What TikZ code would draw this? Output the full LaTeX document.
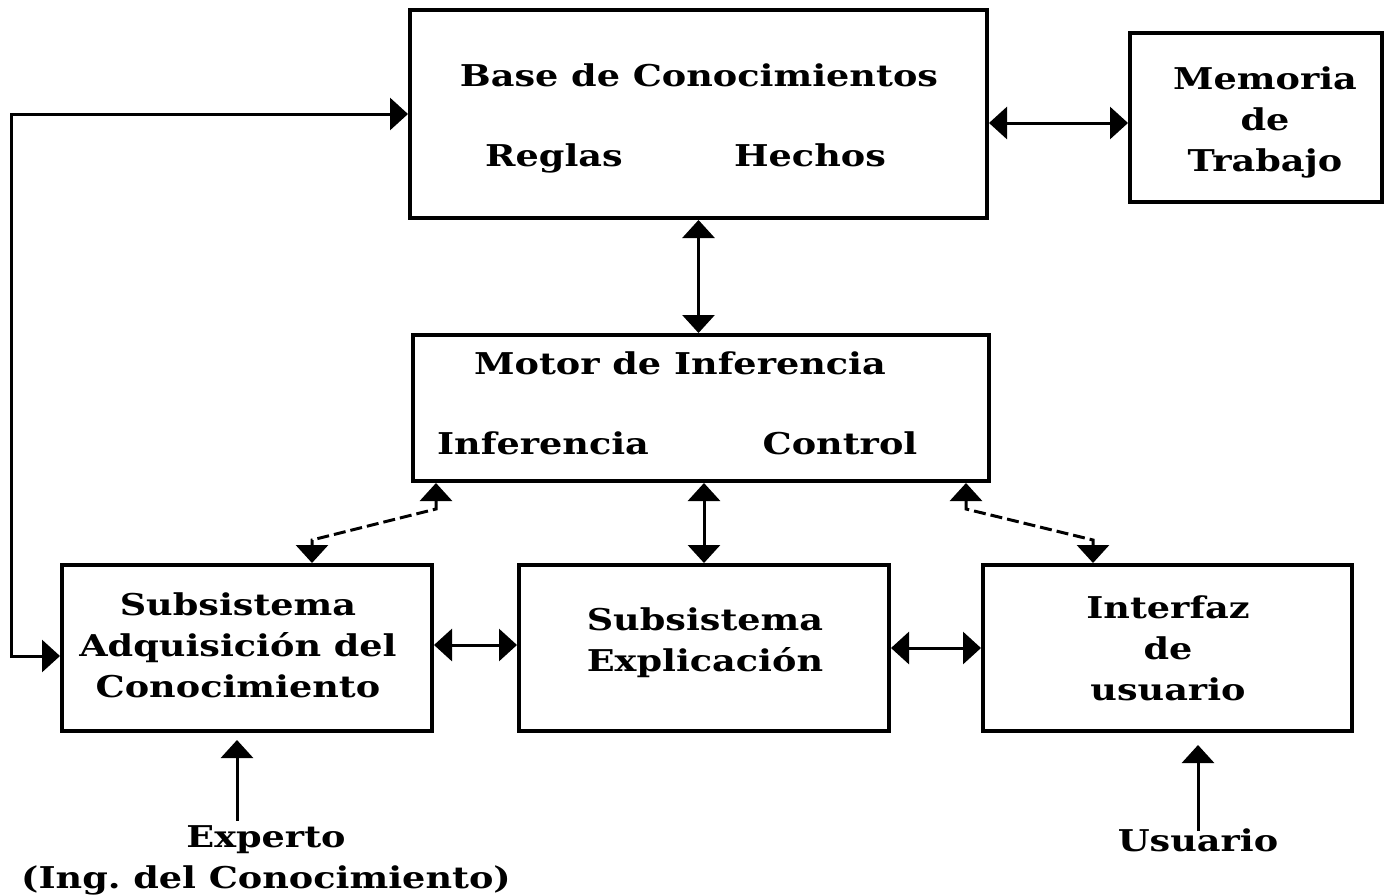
\documentclass[tikz,border=0pt]{standalone}
\usepackage{fontspec}
\usepackage{tikz}
\usetikzlibrary{arrows.meta, positioning}
\newfontfamily\diafont[FakeStretch=1.22]{DejaVu Serif}

\begin{document}
\begin{tikzpicture}[x=1pt, y=-1pt,
    box/.style={rectangle, draw, line width=4pt, inner sep=0pt},
    txt/.style={font=\diafont\bfseries\fontsize{30}{41}\selectfont, inner sep=0pt, align=center, anchor=base},
    arr/.style={-{Triangle[length=18pt, width=32pt]}, line width=3pt},
    dbl/.style={{Triangle[length=18pt, width=32pt]}-{Triangle[length=18pt, width=32pt]}, line width=3pt},
    dsh/.style={dbl, line width=3pt, dash pattern=on 12pt off 5pt}
]
\useasboundingbox (0,0) rectangle (1397,895);

% boxes
\node[box, minimum width=577pt, minimum height=208pt] (base) at (698.5,114) {};
\node[box, minimum width=252pt, minimum height=169pt] (mem) at (1256,117.5) {};
\node[box, minimum width=576pt, minimum height=146pt] (motor) at (701,408) {};
\node[box, minimum width=370pt, minimum height=166pt] (adq) at (247,648) {};
\node[box, minimum width=370pt, minimum height=166pt] (expl) at (704,648) {};
\node[box, minimum width=369pt, minimum height=166pt] (inter) at (1167.5,648) {};

% texts (base = last line)
\node[txt] (basetit) at (699,86) {Base de Conocimientos};
\node[txt] (reglas) at (554,166) {Reglas};
\node[txt] (hechos) at (810,166) {Hechos};
\node[txt] (memtxt) at (1265,171) {Memoria\\de\\Trabajo};
\node[txt] (motortit) at (680,374) {Motor de Inferencia};
\node[txt] (inf) at (543,454) {Inferencia};
\node[txt] (control) at (840,454) {Control};
\node[txt] (adqtxt) at (238,697) {Subsistema\\Adquisición del\\Conocimiento};
\node[txt] (expltxt) at (705,671) {Subsistema\\Explicación};
\node[txt] (intertxt) at (1168,700) {Interfaz\\de\\usuario};
\node[txt] (experto) at (266,888) {Experto\\(Ing.\ del Conocimiento)};
\node[txt] (usuario) at (1198,851) {Usuario};

% connectors
\draw[dbl] ([yshift=-8pt]adq.west) -- ++(-49,0) |- (base.west);
\draw[dbl] ([yshift=-9pt]base.east) -- ([yshift=-9pt]base.east -| mem.west);
\draw[dbl] (base.south) -- (base.south |- motor.north);
\draw[dbl] (expl.north |- motor.south) -- (expl.north);
\draw[dsh] ([xshift=25pt]motor.south west) -- ++(0,26) -- ([shift={(65pt,23pt)}]adq.north) -- ([xshift=65pt]adq.north);
\draw[dsh] ([xshift=-25pt]motor.south east) -- ++(0,26) -- ([shift={(-74.5pt,23pt)}]inter.north) -- ([xshift=-74.5pt]inter.north);
\draw[dbl] ([yshift=3pt]adq.east) -- ([yshift=3pt]adq.east -| expl.west);
\draw[dbl] (expl.east) -- (inter.west);
\draw[arr, shorten >=7pt] ([xshift=-29pt, yshift=4pt]experto.north) -- ([xshift=-29pt]experto.north |- adq.south);
\draw[arr, shorten >=12pt] ([yshift=-3pt]usuario.north) -- (usuario.north |- inter.south);

\end{tikzpicture}
\end{document}
